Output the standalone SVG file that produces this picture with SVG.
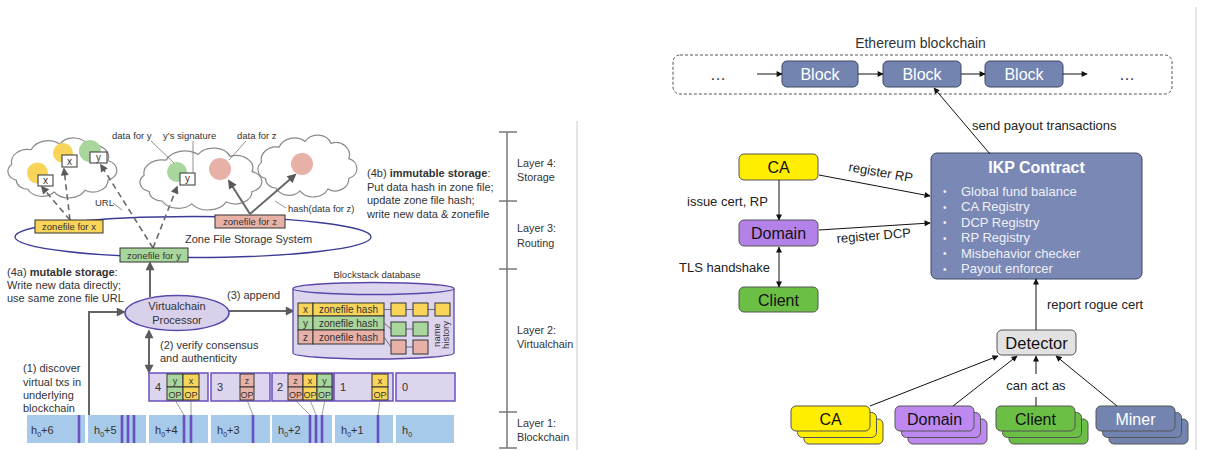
<svg xmlns="http://www.w3.org/2000/svg" xmlns:xlink="http://www.w3.org/1999/xlink" width="1208" height="450" viewBox="0 0 1208 450">
<style>
  text { font-family: "Liberation Sans", Arial, sans-serif; fill: #333; }
  .f11 { font-size: 11px; }
  .f10 { font-size: 10px; }
  .f95 { font-size: 9.5px; }
  .f9 { font-size: 9px; }
  .mid { text-anchor: middle; }
  .b { font-weight: bold; }
  .cloud { fill: #fff; stroke: #8a8a8a; stroke-width: 1.2; }
  .chain { fill: #a7c9ea; }
  .bar { stroke: #6a4fc0; stroke-width: 2.6; }
  .vblk { fill: #ddd4ee; stroke: #6a4fc0; stroke-width: 1.5; }
  .cell { stroke: #333; stroke-width: 1; }
  .yel { fill: #f8d458; }
  .grn { fill: #a9d69c; }
  .sal { fill: #e7b1a8; }
  .tie { stroke: #888; stroke-width: 0.8; fill: none; }
  .garrow { stroke: #666; stroke-width: 2; fill: none; marker-end: url(#ag); }
  .dash { stroke: #6a6a6a; stroke-width: 1.6; stroke-dasharray: 6 4; fill: none; marker-end: url(#ad); }
  .ptr { stroke: #777; stroke-width: 0.8; fill: none; }
  .rt { font-size: 13px; fill: #222; }
  .node { stroke: #555; stroke-width: 1; }
  .conn { stroke: #111; stroke-width: 1; fill: none; marker-end: url(#ab); }
  .sep { stroke: #d4d4d4; stroke-width: 1.2; }
</style>
<defs>
  <marker id="ag" viewBox="0 0 10 10" refX="8" refY="5" markerWidth="10" markerHeight="9" orient="auto-start-reverse" markerUnits="userSpaceOnUse">
    <path d="M0,0 L10,5 L0,10 z" fill="#5a5a5a"/>
  </marker>
  <marker id="ad" viewBox="0 0 10 10" refX="8" refY="5" markerWidth="9" markerHeight="8" orient="auto" markerUnits="userSpaceOnUse">
    <path d="M0,0 L10,5 L0,10 z" fill="#5a5a5a"/>
  </marker>
  <marker id="ab" viewBox="0 0 10 10" refX="9" refY="5" markerWidth="7" markerHeight="6" orient="auto-start-reverse" markerUnits="userSpaceOnUse">
    <path d="M0,0 L10,5 L0,10 z" fill="#111"/>
  </marker>
  <path id="cloud" d="M12 45 A10 10 0 0 1 8 28 A14 14 0 0 1 25 12 A16 16 0 0 1 50 6 A14 14 0 0 1 75 8 A13 13 0 0 1 92 24 A11 11 0 0 1 92 45 A13 13 0 0 1 72 56 A16 16 0 0 1 45 58 A14 14 0 0 1 22 55 A10 10 0 0 1 12 45 Z" vector-effect="non-scaling-stroke"/>
</defs>

<rect width="1208" height="450" fill="#fff"/>

<!-- panel separators -->
<line class="sep" x1="577" y1="121" x2="577" y2="450"/>
<line class="sep" x1="1196" y1="7" x2="1196" y2="450"/>

<!-- ===================== Blockstack architecture ===================== -->

<!-- layer scale -->
<g id="layer-scale">
  <line x1="507" y1="132" x2="507" y2="448" stroke="#777" stroke-width="1.5"/>
  <g stroke="#777" stroke-width="1.5">
    <line x1="499" y1="132" x2="517" y2="132"/>
    <line x1="499" y1="201" x2="517" y2="201"/>
    <line x1="499" y1="269" x2="517" y2="269"/>
    <line x1="499" y1="412" x2="517" y2="412"/>
    <line x1="499" y1="448" x2="517" y2="448"/>
  </g>
  <g font-size="10.8">
    <text x="517" y="167">Layer 4:</text>
    <text x="517" y="181">Storage</text>
    <text x="517" y="232">Layer 3:</text>
    <text x="517" y="247">Routing</text>
    <text x="517" y="334">Layer 2:</text>
    <text x="517" y="348">Virtualchain</text>
    <text x="517" y="427">Layer 1:</text>
    <text x="517" y="441">Blockchain</text>
  </g>
</g>

<!-- storage clouds -->
<g id="cloud-1">
  <use xlink:href="#cloud" class="cloud" transform="translate(2.5,138.7) scale(1.147,0.919)"/>
  <circle cx="37.5" cy="173" r="10.5" class="yel"/>
  <rect x="38" y="175" width="15" height="11" fill="#fff" class="cell"/>
  <text class="f10 mid" x="45.5" y="184">x</text>
  <circle cx="63" cy="153" r="10" class="yel"/>
  <rect x="62" y="155" width="15" height="12" fill="#fff" class="cell"/>
  <text class="f10 mid" x="69.5" y="164.5">x</text>
  <circle cx="90" cy="151" r="11" class="grn"/>
  <rect x="90" y="152" width="17" height="11" fill="#fff" class="cell"/>
  <text class="f10 mid" x="98.5" y="161">y</text>
</g>
<g id="cloud-2">
  <use xlink:href="#cloud" class="cloud" transform="translate(133.9,148.8) scale(1.284,0.949)"/>
  <circle cx="177" cy="172" r="10" class="grn"/>
  <rect x="180" y="173" width="15" height="12" fill="#fff" class="cell"/>
  <text class="f10 mid" x="187.5" y="182">y</text>
  <circle cx="220" cy="169" r="11" class="sal"/>
</g>
<g id="cloud-3">
  <use xlink:href="#cloud" class="cloud" transform="translate(253,135.8) scale(1.042,0.949)"/>
  <circle cx="302" cy="164" r="11" class="sal"/>
</g>

<!-- callout labels -->
<g id="callouts">
  <text class="f95" x="112" y="138.5">data for y</text>
  <text class="f95" x="163" y="138.5">y’s signature</text>
  <text class="f95" x="237" y="138.5">data for z</text>
  <line class="ptr" x1="151" y1="141" x2="174" y2="163"/>
  <line class="ptr" x1="193" y1="141" x2="193" y2="173"/>
  <line class="ptr" x1="246" y1="141" x2="229" y2="160"/>
  <text class="f95" x="95" y="205.5">URL</text>
  <line class="ptr" x1="113" y1="203" x2="122" y2="210"/>
  <text class="f95" x="288" y="211.5">hash(data for z)</text>
  <line class="ptr" x1="275" y1="201" x2="286" y2="208"/>
</g>

<!-- zone file storage system -->
<g id="zone-file-storage">
  <ellipse cx="193" cy="237" rx="178" ry="20.5" fill="none" stroke="#3b3b96" stroke-width="1.3"/>
  <text class="f11" x="185" y="243">Zone File Storage System</text>
</g>

<!-- connectors -->
<g id="connectors">
  <!-- zone files point at stored data -->
  <line class="dash" x1="70" y1="220" x2="42" y2="187"/>
  <line class="dash" x1="70" y1="220" x2="64" y2="169"/>
  <line class="dash" x1="153" y1="248" x2="101" y2="165"/>
  <line class="dash" x1="153" y1="248" x2="177" y2="187"/>
  <line class="garrow" x1="250" y1="214" x2="229" y2="181"/>
  <line class="garrow" x1="250" y1="214" x2="295" y2="175"/>
  <!-- virtualchain processor flows -->
  <path class="garrow" d="M89 415 V312 H124"/>
  <line class="garrow" x1="150" y1="297" x2="150" y2="263"/>
  <line class="garrow" x1="149" y1="331" x2="149" y2="372" style="marker-start:url(#ag)"/>
  <line class="garrow" x1="229" y1="311" x2="293" y2="311"/>
  <!-- OP to transaction ties -->
  <line class="tie" x1="175" y1="400" x2="184" y2="415"/>
  <line class="tie" x1="191" y1="400" x2="191" y2="415"/>
  <line class="tie" x1="247" y1="400" x2="253" y2="415"/>
  <line class="tie" x1="295" y1="400" x2="310" y2="415"/>
  <line class="tie" x1="310" y1="400" x2="316" y2="415"/>
  <line class="tie" x1="325" y1="400" x2="322" y2="415"/>
  <line class="tie" x1="380" y1="400" x2="378" y2="415"/>
</g>

<!-- zone files -->
<g id="zonefile-x">
  <rect x="35" y="220" width="68" height="13" class="yel cell"/>
  <text class="f95 mid" x="69" y="230">zonefile for x</text>
</g>
<g id="zonefile-y">
  <rect x="120" y="248" width="68" height="14" class="grn cell"/>
  <text class="f95 mid" x="154" y="258.5">zonefile for y</text>
</g>
<g id="zonefile-z">
  <rect x="215" y="215" width="70" height="13" class="sal cell"/>
  <text class="f95 mid" x="250" y="225">zonefile for z</text>
</g>

<!-- annotations -->
<g id="notes">
  <text class="f11" x="7" y="276">(4a) <tspan class="b">mutable storage</tspan>:</text>
  <text class="f11" x="7" y="289">Write new data directly;</text>
  <text class="f11" x="7" y="302">use same zone file URL</text>
  <text class="f11" x="367" y="177">(4b) <tspan class="b">immutable storage</tspan>:</text>
  <text class="f11" x="367" y="191">Put data hash in zone file;</text>
  <text class="f11" x="367" y="204">update zone file hash;</text>
  <text class="f11" x="367" y="218">write new data &amp; zonefile</text>
  <text class="f11" x="227" y="299">(3) append</text>
  <text class="f11" x="160" y="349">(2) verify consensus</text>
  <text class="f11" x="160" y="362">and authenticity</text>
  <text class="f11" x="23" y="372">(1) discover</text>
  <text class="f11" x="23" y="386">virtual txs in</text>
  <text class="f11" x="23" y="399">underlying</text>
  <text class="f11" x="23" y="412">blockchain</text>
</g>

<!-- virtualchain processor -->
<g id="virtualchain-processor">
  <ellipse cx="177" cy="313" rx="52" ry="17.5" fill="#d9d0ec" stroke="#5a48a8" stroke-width="1.5"/>
  <text class="f11 mid" x="177" y="310">Virtualchain</text>
  <text class="f11 mid" x="177" y="324">Processor</text>
</g>

<!-- blockstack database -->
<g id="blockstack-database">
  <text class="f95 mid" x="377" y="278">Blockstack database</text>
  <path d="M293 288.5 V353 A80.5 6 0 0 0 454 353 V288.5" fill="#ddd4ee" stroke="#5a48a8" stroke-width="1.3"/>
  <ellipse cx="373.5" cy="288.5" rx="80.5" ry="6" fill="#ddd4ee" stroke="#5a48a8" stroke-width="1.3"/>
  <rect x="298" y="303" width="15" height="13" class="yel cell"/>
  <rect x="313" y="303" width="71" height="13" class="yel cell"/>
  <rect x="298" y="316" width="15" height="14" class="grn cell"/>
  <rect x="313" y="316" width="71" height="14" class="grn cell"/>
  <rect x="298" y="330" width="15" height="14" class="sal cell"/>
  <rect x="313" y="330" width="71" height="14" class="sal cell"/>
  <text class="f10 mid" x="305.5" y="313">x</text>
  <text class="f10 mid" x="348.5" y="313">zonefile hash</text>
  <text class="f10 mid" x="305.5" y="326.5">y</text>
  <text class="f10 mid" x="348.5" y="326.5">zonefile hash</text>
  <text class="f10 mid" x="305.5" y="340.5">z</text>
  <text class="f10 mid" x="348.5" y="340.5">zonefile hash</text>
  <g stroke="#555" stroke-width="0.8" fill="none">
    <line x1="384" y1="309.5" x2="391" y2="309.5"/>
    <line x1="406" y1="309.5" x2="413" y2="309.5"/>
    <line x1="428" y1="309.5" x2="435" y2="309.5"/>
    <line x1="384" y1="323" x2="391" y2="329"/>
    <line x1="406" y1="329" x2="413" y2="329"/>
    <line x1="384" y1="337" x2="391" y2="347"/>
    <line x1="406" y1="347" x2="413" y2="347"/>
  </g>
  <rect x="391" y="303" width="15" height="13" class="yel cell"/>
  <rect x="413" y="303" width="15" height="13" class="yel cell"/>
  <rect x="435" y="303" width="15" height="13" class="yel cell"/>
  <rect x="391" y="322" width="15" height="14" class="grn cell"/>
  <rect x="413" y="322" width="15" height="14" class="grn cell"/>
  <rect x="391" y="340" width="15" height="14" class="sal cell"/>
  <rect x="413" y="340" width="15" height="14" class="sal cell"/>
  <text class="f95 mid" transform="translate(440,335) rotate(-90)">name</text>
  <text class="f95 mid" transform="translate(448.5,335) rotate(-90)">history</text>
</g>

<!-- virtualchain blocks -->
<g id="virtualchain-blocks">
  <rect x="149" y="373" width="59" height="28" class="vblk"/>
  <rect x="211" y="373" width="59" height="28" class="vblk"/>
  <rect x="272" y="373" width="61" height="28" class="vblk"/>
  <rect x="334" y="373" width="59" height="28" class="vblk"/>
  <rect x="396" y="373" width="59" height="28" class="vblk"/>
  <text class="f11" x="155" y="391">4</text>
  <text class="f11" x="217" y="391">3</text>
  <text class="f11" x="277" y="391">2</text>
  <text class="f11" x="340" y="391">1</text>
  <text class="f11" x="402" y="391">0</text>
  <!-- name operations -->
  <rect x="167" y="374" width="16" height="13" class="grn cell"/><rect x="167" y="387" width="16" height="13" class="grn cell"/>
  <rect x="183" y="374" width="16" height="13" class="yel cell"/><rect x="183" y="387" width="16" height="13" class="yel cell"/>
  <rect x="240" y="374" width="14" height="13" class="sal cell"/><rect x="240" y="387" width="14" height="13" class="sal cell"/>
  <rect x="288" y="374" width="15" height="13" class="sal cell"/><rect x="288" y="387" width="15" height="13" class="sal cell"/>
  <rect x="303" y="374" width="14" height="13" class="yel cell"/><rect x="303" y="387" width="14" height="13" class="yel cell"/>
  <rect x="317" y="374" width="15" height="13" class="grn cell"/><rect x="317" y="387" width="15" height="13" class="grn cell"/>
  <rect x="372" y="374" width="16" height="13" class="yel cell"/><rect x="372" y="387" width="16" height="13" class="yel cell"/>
  <g class="f9 mid">
    <text x="175" y="384">y</text><text x="175" y="397.5">OP</text>
    <text x="191" y="384">x</text><text x="191" y="397.5">OP</text>
    <text x="247" y="384">z</text><text x="247" y="397.5">OP</text>
    <text x="295.5" y="384">z</text><text x="295.5" y="397.5">OP</text>
    <text x="310" y="384">x</text><text x="310" y="397.5">OP</text>
    <text x="324.5" y="384">y</text><text x="324.5" y="397.5">OP</text>
    <text x="380" y="384">x</text><text x="380" y="397.5">OP</text>
  </g>
</g>

<!-- underlying blockchain -->
<g id="underlying-blockchain">
  <rect x="27" y="415" width="58" height="28" class="chain"/>
  <rect x="88" y="415" width="58" height="28" class="chain"/>
  <rect x="149" y="415" width="59" height="28" class="chain"/>
  <rect x="211" y="415" width="59" height="28" class="chain"/>
  <rect x="272" y="415" width="60" height="28" class="chain"/>
  <rect x="335" y="415" width="58" height="28" class="chain"/>
  <rect x="396" y="415" width="58" height="28" class="chain"/>
  <g class="bar">
    <line x1="79" y1="415" x2="79" y2="443"/>
    <line x1="122" y1="415" x2="122" y2="443"/>
    <line x1="128" y1="415" x2="128" y2="443"/>
    <line x1="134" y1="415" x2="134" y2="443"/>
    <line x1="184" y1="415" x2="184" y2="443"/>
    <line x1="191" y1="415" x2="191" y2="443"/>
    <line x1="253" y1="415" x2="253" y2="443"/>
    <line x1="310" y1="415" x2="310" y2="443"/>
    <line x1="316" y1="415" x2="316" y2="443"/>
    <line x1="322" y1="415" x2="322" y2="443"/>
    <line x1="378" y1="415" x2="378" y2="443"/>
  </g>
  <g class="f11">
    <text x="31" y="434">h<tspan font-size="7" dy="3">0</tspan><tspan dy="-3">+6</tspan></text>
    <text x="94" y="434">h<tspan font-size="7" dy="3">0</tspan><tspan dy="-3">+5</tspan></text>
    <text x="155" y="434">h<tspan font-size="7" dy="3">0</tspan><tspan dy="-3">+4</tspan></text>
    <text x="217" y="434">h<tspan font-size="7" dy="3">0</tspan><tspan dy="-3">+3</tspan></text>
    <text x="278" y="434">h<tspan font-size="7" dy="3">0</tspan><tspan dy="-3">+2</tspan></text>
    <text x="341" y="434">h<tspan font-size="7" dy="3">0</tspan><tspan dy="-3">+1</tspan></text>
    <text x="402" y="434">h<tspan font-size="7" dy="3">0</tspan></text>
  </g>
</g>

<!-- ===================== IKP on Ethereum ===================== -->

<g id="ethereum-blockchain">
  <rect x="673" y="55" width="499" height="39" rx="7" fill="none" stroke="#555" stroke-width="1" stroke-dasharray="3 2"/>
  <text class="mid" x="920.5" y="48" font-size="14" fill="#222">Ethereum blockchain</text>
  <text class="mid" x="718" y="80" font-size="16" fill="#222">…</text>
  <text class="mid" x="1127" y="80" font-size="16" fill="#222">…</text>
</g>
<g id="block-1">
  <rect x="782" y="61" width="76" height="26" rx="5" fill="#7384b0" stroke="#3d4666"/>
  <text class="mid" x="820" y="80" font-size="16" style="fill:#fff">Block</text>
</g>
<g id="block-2">
  <rect x="883" y="61" width="78" height="26" rx="5" fill="#7384b0" stroke="#3d4666"/>
  <text class="mid" x="922" y="80" font-size="16" style="fill:#fff">Block</text>
</g>
<g id="block-3">
  <rect x="985" y="61" width="78" height="26" rx="5" fill="#7384b0" stroke="#3d4666"/>
  <text class="mid" x="1024" y="80" font-size="16" style="fill:#fff">Block</text>
</g>

<g id="ikp-contract">
  <rect x="931" y="153" width="211" height="126" rx="6" fill="#7a88b5" stroke="#3d4666"/>
  <text class="mid b" x="1036.5" y="173" font-size="16" style="fill:#fff">IKP Contract</text>
  <g font-size="13">
    <text x="943" y="195" font-size="10" style="fill:#eef0f8">•</text><text x="961" y="195.5" style="fill:#eef0f8">Global fund balance</text>
    <text x="943" y="210.5" font-size="10" style="fill:#eef0f8">•</text><text x="961" y="211" style="fill:#eef0f8">CA Registry</text>
    <text x="943" y="226" font-size="10" style="fill:#eef0f8">•</text><text x="961" y="226.5" style="fill:#eef0f8">DCP Registry</text>
    <text x="943" y="241.5" font-size="10" style="fill:#eef0f8">•</text><text x="961" y="242" style="fill:#eef0f8">RP Registry</text>
    <text x="943" y="257" font-size="10" style="fill:#eef0f8">•</text><text x="961" y="257.5" style="fill:#eef0f8">Misbehavior checker</text>
    <text x="943" y="272.5" font-size="10" style="fill:#eef0f8">•</text><text x="961" y="273" style="fill:#eef0f8">Payout enforcer</text>
  </g>
</g>

<g id="ca">
  <rect x="739" y="154" width="79" height="26" rx="5" fill="#ffee00" class="node"/>
  <text class="mid" x="778.5" y="173" font-size="16" style="fill:#111">CA</text>
</g>
<g id="domain">
  <rect x="739" y="220" width="79" height="26" rx="5" fill="#b481e8" class="node"/>
  <text class="mid" x="778.5" y="239" font-size="16" style="fill:#111">Domain</text>
</g>
<g id="client">
  <rect x="739" y="287" width="79" height="25" rx="5" fill="#6bbf45" class="node"/>
  <text class="mid" x="778.5" y="305.5" font-size="16" style="fill:#111">Client</text>
</g>
<g id="detector">
  <rect x="997" y="330" width="79" height="25" rx="5" fill="#e2e2e2" class="node"/>
  <text class="mid" x="1036.5" y="348.5" font-size="16.5" style="fill:#111">Detector</text>
</g>

<!-- roles that can act as detectors -->
<g id="ca-group">
  <rect x="804" y="419" width="79" height="25" rx="5" fill="#ffee00" class="node"/>
  <rect x="797.5" y="412.5" width="79" height="25" rx="5" fill="#ffee00" class="node"/>
  <rect x="791" y="406" width="79" height="25" rx="5" fill="#ffee00" class="node"/>
  <text class="mid" x="830.5" y="424.5" font-size="16" style="fill:#111">CA</text>
</g>
<g id="domain-group">
  <rect x="908" y="419" width="79" height="25" rx="5" fill="#bd88f0" class="node"/>
  <rect x="901.5" y="412.5" width="79" height="25" rx="5" fill="#bd88f0" class="node"/>
  <rect x="895" y="406" width="79" height="25" rx="5" fill="#bd88f0" class="node"/>
  <text class="mid" x="934.5" y="424.5" font-size="16" style="fill:#111">Domain</text>
</g>
<g id="client-group">
  <rect x="1009" y="419" width="79" height="25" rx="5" fill="#6bbf45" class="node"/>
  <rect x="1002.5" y="412.5" width="79" height="25" rx="5" fill="#6bbf45" class="node"/>
  <rect x="996" y="406" width="79" height="25" rx="5" fill="#6bbf45" class="node"/>
  <text class="mid" x="1035.5" y="424.5" font-size="16" style="fill:#111">Client</text>
</g>
<g id="miner-group">
  <rect x="1109" y="419" width="79" height="25" rx="5" fill="#7384b0" class="node"/>
  <rect x="1102.5" y="412.5" width="79" height="25" rx="5" fill="#7384b0" class="node"/>
  <rect x="1096" y="406" width="79" height="25" rx="5" fill="#7384b0" class="node"/>
  <text class="mid" x="1135.5" y="424.5" font-size="16" style="fill:#fff">Miner</text>
</g>

<g id="ikp-connectors">
  <line class="conn" x1="757" y1="74" x2="782" y2="74"/>
  <line class="conn" x1="858" y1="74" x2="883" y2="74"/>
  <line class="conn" x1="961" y1="74" x2="985" y2="74"/>
  <line class="conn" x1="1063" y1="74" x2="1087" y2="74"/>
  <line class="conn" x1="990" y1="154" x2="934" y2="88"/>
  <line class="conn" x1="819" y1="175" x2="930" y2="196"/>
  <line class="conn" x1="819" y1="230" x2="930" y2="223"/>
  <line class="conn" x1="779" y1="180" x2="779" y2="220"/>
  <line class="conn" x1="779" y1="247" x2="779" y2="287" style="marker-start:url(#ab)"/>
  <line class="conn" x1="1036" y1="330" x2="1036" y2="279"/>
  <line class="conn" x1="870" y1="406" x2="998" y2="356"/>
  <line class="conn" x1="953" y1="406" x2="1017" y2="356"/>
  <line x1="1036" y1="406" x2="1036" y2="397" stroke="#111" stroke-width="1"/>
  <line class="conn" x1="1036" y1="374" x2="1036" y2="356"/>
  <line class="conn" x1="1117" y1="406" x2="1056" y2="356"/>
</g>

<g id="ikp-labels">
  <text class="rt" x="972" y="130">send payout transactions</text>
  <text class="rt" transform="translate(848,171) rotate(10)">register RP</text>
  <text class="rt" transform="translate(837,243) rotate(-4.5)">register DCP</text>
  <text class="rt" x="687" y="205.5">issue cert, RP</text>
  <text class="rt" x="679" y="271.5">TLS handshake</text>
  <text class="rt" x="1047" y="309">report rogue cert</text>
  <text class="rt mid" x="1036" y="390">can act as</text>
</g>
</svg>
